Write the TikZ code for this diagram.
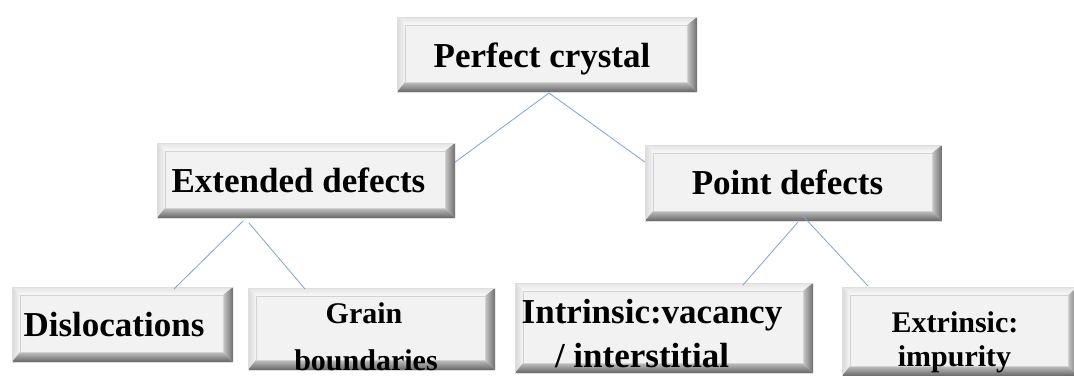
\documentclass[tikz,border=0pt]{standalone}
\usepackage{fontspec}
\setmainfont{Liberation Serif}
\usetikzlibrary{calc}
\definecolor{btnface}{HTML}{F2F2F2}
\definecolor{linkblue}{HTML}{7FA3DC}
\definecolor{bvtopA}{HTML}{E4E4E4}
\definecolor{bvtopB}{HTML}{F9F9F9}
\definecolor{bvleftA}{HTML}{D8D8D8}
\definecolor{bvleftB}{HTML}{F5F5F5}
\definecolor{bvrightA}{HTML}{C8C8C8}
\definecolor{bvrightB}{HTML}{6E6E6E}
\definecolor{bvbotA}{HTML}{C0C0C0}
\definecolor{bvbotB}{HTML}{666666}
\definecolor{bvline}{HTML}{D2D2D2}
\definecolor{bvouter}{HTML}{DEDEDE}
\begin{document}
\begin{tikzpicture}[x=1pt,y=-1pt,
  btn/.style={rectangle, inner sep=0pt, outer sep=0pt, fill=btnface,
    path picture={
      \coordinate (sw) at (path picture bounding box.south west);
      \coordinate (ne) at (path picture bounding box.north east);
      \coordinate (nw) at (sw|-ne);
      \coordinate (se) at (ne|-sw);
      \coordinate (isw) at ($(sw)+(8pt,10pt)$);
      \coordinate (ine) at ($(ne)+(-10pt,-8pt)$);
      \coordinate (inw) at (isw|-ine);
      \coordinate (ise) at (ine|-isw);
      \shade[top color=bvtopA, bottom color=bvtopB] (nw) -- (ne) -- (ine) -- (inw) -- cycle;
      \shade[left color=bvleftA, right color=bvleftB] (sw) -- (nw) -- (inw) -- (isw) -- cycle;
      \shade[left color=bvrightA, right color=bvrightB] (se) -- (ne) -- (ine) -- (ise) -- cycle;
      \shade[top color=bvbotA, bottom color=bvbotB] (sw) -- (se) -- (ise) -- (isw) -- cycle;
      \draw[bvline, line width=0.7pt] (isw) rectangle (ine);
      \draw[bvouter, line width=1pt] (sw) rectangle (ne);
    }},
  lbl/.style={anchor=base, inner sep=0pt, font=\bfseries\fontsize{35}{42}\selectfont},
  lbls/.style={anchor=base, inner sep=0pt, font=\bfseries\fontsize{30}{36}\selectfont},
  link/.style={draw=linkblue, line width=0.8pt}]
\useasboundingbox[fill=white] (0,0) rectangle (1074,375);

% boxes
\node[btn, minimum width=300pt, minimum height=75pt] (PC) at (547,54.5) {};
\node[btn, minimum width=298pt, minimum height=75pt] (ED) at (306,180.5) {};
\node[btn, minimum width=297pt, minimum height=76pt] (PD) at (793.5,183) {};
\node[btn, minimum width=221pt, minimum height=75pt] (Dis) at (122.5,324.5) {};
\node[btn, minimum width=247pt, minimum height=82pt] (GB) at (371.5,329) {};
\node[btn, minimum width=298pt, minimum height=90pt] (IN) at (664,328) {};
\node[btn, minimum width=236pt, minimum height=89pt] (EX) at (960,331.5) {};

% texts
\node[lbl] (tPC) at (542,67) {Perfect crystal};
\node[lbl] (tED) at (298.5,192) {Extended defects};
\node[lbl] (tPD) at (787.5,194) {Point defects};
\node[lbl] (tDis) at (114,336) {Dislocations};
\node[lbls] (tGB1) at (364,323) {Grain};
\node[lbls] (tGB2) at (366,370) {boundaries};
\node[lbl] (tIN1) at (652,323) {Intrinsic:vacancy};
\node[lbl] (tIN2) at (642,367) {/ interstitial};
\node[lbls] (tEX1) at (955,332) {Extrinsic:};
\node[lbls] (tEX2) at (954.5,366) {impurity};

% connectors
\draw[link] ([xshift=2pt,yshift=-1pt]PC.south) -- (ED.7);
\draw[link] ([xshift=2pt,yshift=-1pt]PC.south) -- (PD.172);
\draw[link] ([shift={(-63pt,-3pt)}]ED.south) -- ([shift={(51.5pt,-2pt)}]Dis.north);
\draw[link] ([shift={(-57pt,-5pt)}]ED.south) -- ([shift={(-66.5pt,-1pt)}]GB.north);
\draw[link] ([shift={(4.5pt,-1pt)}]PD.south) -- ([shift={(79pt,-2pt)}]IN.north);
\draw[link] ([shift={(8.5pt,6pt)}]PD.south) -- ([shift={(-92pt,1pt)}]EX.north);
\end{tikzpicture}
\end{document}
